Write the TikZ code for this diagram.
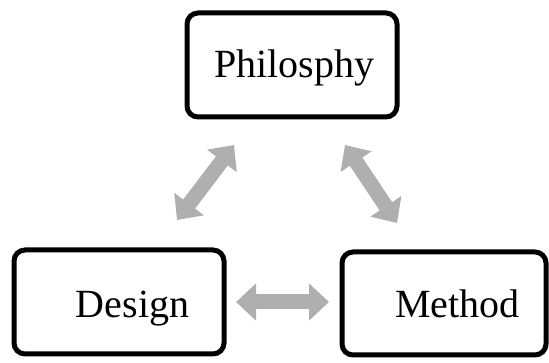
\documentclass[tikz,border=0pt]{standalone}
\usepackage{fontspec}
\setmainfont{Liberation Serif}
\usetikzlibrary{arrows.meta}
\definecolor{linkgray}{RGB}{175,175,175}
\tikzset{
  box/.style={draw=black, line width=5pt, rounded corners=11pt, fill=white, inner sep=0pt},
  boxtext/.style={font=\fontsize{40}{48}\selectfont, anchor=base, inner sep=0pt},
  link/.style={draw=linkgray, line width=15pt,
    {Triangle[width=36pt,length=20pt]}-{Triangle[width=36pt,length=20pt]}}
}
\begin{document}
\begin{tikzpicture}[x=1pt,y=-1pt]
  \useasboundingbox (0,0) rectangle (549,363);
  % the three boxes
  \node[box, minimum width=210pt, minimum height=104pt] (phil) at (292,65) {};
  \node[box, minimum width=210pt, minimum height=104pt] (design) at (119,302) {};
  \node[box, minimum width=204pt, minimum height=103pt] (method) at (444,303.5) {};
  % their captions
  \node[boxtext] (philtext) at (294.5,78) {Philosphy};
  \node[boxtext] (designtext) at (132.5,318) {Design};
  \node[boxtext] (methodtext) at (457.5,318) {Method};
  % ends of the double arrows
  \coordinate (dp1) at (177,220);
  \coordinate (dp2) at (234,145);
  \coordinate (pm1) at (345,145);
  \coordinate (pm2) at (397,223);
  \coordinate (dm1) at (236,302);
  \coordinate (dm2) at (329,302);
  \draw[link] (dp1) -- (dp2);
  \draw[link] (pm1) -- (pm2);
  \draw[link] (dm1) -- (dm2);
\end{tikzpicture}
\end{document}
